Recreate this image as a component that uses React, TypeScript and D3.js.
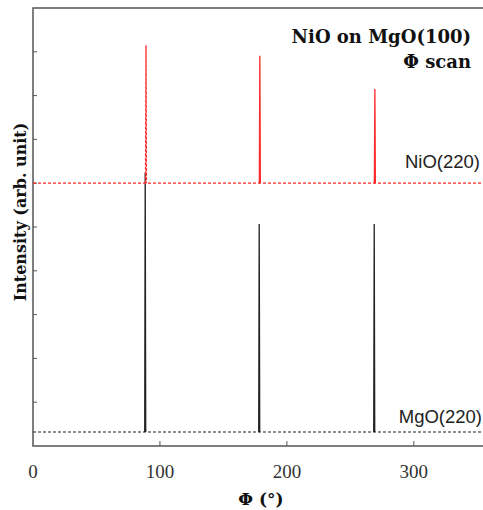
import React, { useEffect, useRef } from 'react';
import * as d3 from 'd3';

// Φ positions (deg) and intensities (arb. unit)
const niOBaseline = 6.0;
const niOPeaks: [number, number][] = [
  [89, 9.15],
  [178.7, 8.91],
  [269.3, 8.15],
];
const mgOBaseline = 0.32;
const mgOPeaks: [number, number][] = [
  [88.4, 6.24],
  [178.2, 5.07],
  [268.8, 5.07],
];
const xTicks = [0, 100, 200, 300];
const yTicks = [1, 2, 3, 4, 5, 6, 7, 8, 9];

const W = 483;
const H = 510;

const App = () => {
  const ref = useRef<SVGSVGElement | null>(null);

  useEffect(() => {
    const svg = d3.select(ref.current);
    svg.selectAll('*').remove();

    const x = d3.scaleLinear().domain([0, 360]).range([33, 490]);
    const y = d3.scaleLinear().domain([0, 10]).range([446, 8]);
    const axisColor = '#555';

    // frame (left, top, bottom)
    svg.append('path')
      .attr('d', `M${x(360)},${y(10)}H${x(0)}V${y(0)}H${x(360)}`)
      .attr('fill', 'none')
      .attr('stroke', axisColor)
      .attr('stroke-width', 1.5);

    // inward ticks
    svg.append('g')
      .selectAll('line')
      .data(yTicks)
      .join('line')
      .attr('x1', x(0))
      .attr('x2', x(0) + 4)
      .attr('y1', (d) => y(d))
      .attr('y2', (d) => y(d))
      .attr('stroke', axisColor)
      .attr('stroke-width', 1);

    svg.append('g')
      .selectAll('line')
      .data(xTicks.filter((d) => d > 0))
      .join('line')
      .attr('x1', (d) => x(d))
      .attr('x2', (d) => x(d))
      .attr('y1', y(0))
      .attr('y2', y(0) - 5)
      .attr('stroke', axisColor)
      .attr('stroke-width', 1);

    svg.append('g')
      .selectAll('text')
      .data(xTicks)
      .join('text')
      .attr('x', (d) => x(d))
      .attr('y', 478)
      .attr('text-anchor', 'middle')
      .attr('font-family', 'Liberation Serif, serif')
      .attr('font-size', 19)
      .attr('fill', '#333')
      .text((d) => d);

    const drawSeries = (base: number, peaks: [number, number][], color: string, dashedPeaks: boolean[]) => {
      svg.append('line')
        .attr('x1', x(0))
        .attr('x2', x(360))
        .attr('y1', y(base))
        .attr('y2', y(base))
        .attr('stroke', color)
        .attr('stroke-width', 1.2)
        .attr('stroke-dasharray', '3,2');
      peaks.forEach(([p, h], i) => {
        const pts: [number, number][] = [[p - 0.4, base], [p, h], [p + 0.4, base]];
        svg.append('path')
          .attr('d', d3.line<[number, number]>().x((d) => x(d[0])).y((d) => y(d[1]))(pts))
          .attr('fill', 'none')
          .attr('stroke', color)
          .attr('stroke-width', 1.3)
          .attr('stroke-dasharray', dashedPeaks[i] ? '3,1.5' : null);
      });
    };

    drawSeries(mgOBaseline, mgOPeaks, '#222', [false, false, false]);
    drawSeries(niOBaseline, niOPeaks, '#ff2828', [true, false, false]);

    const label = (t: string, xx: number, yy: number) =>
      svg.append('text')
        .attr('x', xx)
        .attr('y', yy)
        .attr('text-anchor', 'end')
        .attr('font-family', 'Liberation Sans, Arial, sans-serif')
        .attr('font-size', 18.5)
        .attr('fill', '#222')
        .text(t);
    label('NiO(220)', 480, 168);
    label('MgO(220)', 482, 423);

    const title = svg.append('g')
      .attr('font-family', 'DejaVu Serif, serif')
      .attr('font-weight', 'bold')
      .attr('font-size', 18)
      .attr('fill', '#111')
      .attr('text-anchor', 'end');
    title.append('text').attr('x', 471).attr('y', 43).text('NiO on MgO(100)');
    title.append('text').attr('x', 471).attr('y', 68).text('Φ scan');

    svg.append('text')
      .attr('x', 261)
      .attr('y', 505)
      .attr('text-anchor', 'middle')
      .attr('font-family', 'DejaVu Serif, serif')
      .attr('font-weight', 'bold')
      .attr('font-size', 17)
      .attr('fill', '#111')
      .text('Φ (°)');

    svg.append('text')
      .attr('transform', `translate(26,${212}) rotate(-90)`)
      .attr('text-anchor', 'middle')
      .attr('font-family', 'DejaVu Serif, serif')
      .attr('font-weight', 'bold')
      .attr('font-size', 16)
      .attr('fill', '#111')
      .text('Intensity (arb. unit)');
  }, []);

  return (
    <svg
      ref={ref}
      width={W}
      height={H}
      style={{ position: 'absolute', left: 0, top: 0, background: '#fff' }}
    />
  );
};

export default App;
